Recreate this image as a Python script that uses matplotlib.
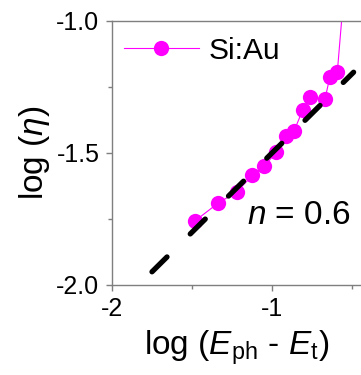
import numpy as np
import matplotlib.pyplot as plt

plt.rcParams["font.family"] = ["Liberation Sans", "DejaVu Sans"]
plt.rcParams["mathtext.fontset"] = "custom"
plt.rcParams["mathtext.rm"] = "Liberation Sans"
plt.rcParams["mathtext.it"] = "Liberation Sans:italic"

# Si:Au data, log scale
log_dE = [-1.481, -1.335, -1.221, -1.123, -1.048, -0.975, -0.915, -0.861,
          -0.808, -0.763, -0.669, -0.638, -0.592, -0.521]
log_eta = [-1.757, -1.689, -1.648, -1.585, -1.551, -1.497, -1.434, -1.415,
           -1.337, -1.289, -1.296, -1.211, -1.195, -0.680]

# power-law fit, slope n
n_fit = 0.6
fit_icpt = -0.9
fit_range = [-1.75, -0.49]

fig = plt.figure(figsize=(3.61, 3.75), dpi=100)
ax = fig.add_axes([112 / 361, 1 - 285 / 375, 249 / 361, 264 / 375])

ax.plot(log_dE, log_eta, "-o", color="magenta", lw=0.8, ms=11,
        mec="none", label="Si:Au", clip_on=True)

fx = np.array(fit_range)
ax.plot(fx, n_fit * fx + fit_icpt, color="black", lw=3.8,
        dashes=(4, 6.2), dash_capstyle="round", zorder=3)

ax.text(-0.512, -1.735, r"$\it{n}$ = 0.6", fontsize=24, ha="right", va="center")

ax.set_xlim(-2, -2 + 249 / 160)
ax.set_ylim(-2, -1)
ax.set_xticks([-2, -1])
ax.set_xticklabels(["-2", "-1"])
ax.set_xticks([-1.5, -0.5], minor=True)
ax.set_yticks([-2, -1.5, -1])
ax.set_yticklabels(["-2.0", "-1.5", "-1.0"])
ax.set_yticks([-1.75, -1.25], minor=True)

for side in ["left", "bottom", "top"]:
    ax.spines[side].set_color("#7f7f7f")
    ax.spines[side].set_linewidth(1.0)
ax.spines["right"].set_visible(False)

ax.tick_params(which="both", direction="out", color="#7f7f7f", width=1.0,
               labelsize=18, pad=5)
ax.tick_params(which="major", length=4)
ax.tick_params(which="minor", length=3)

ax.set_xlabel(r"log ($\it{E}$$_{\rm ph}$ - $\it{E}$$_{\rm t}$)", fontsize=24, labelpad=5)
ax.set_ylabel(r"log ($\it{\eta}$)", fontsize=24, labelpad=3)

ax.legend(loc="upper left", bbox_to_anchor=(0.0, 0.985), frameon=False,
          fontsize=21.5, handlelength=2.5, handletextpad=0.35,
          borderaxespad=0.0)

fig.savefig("out.png", dpi=100)
